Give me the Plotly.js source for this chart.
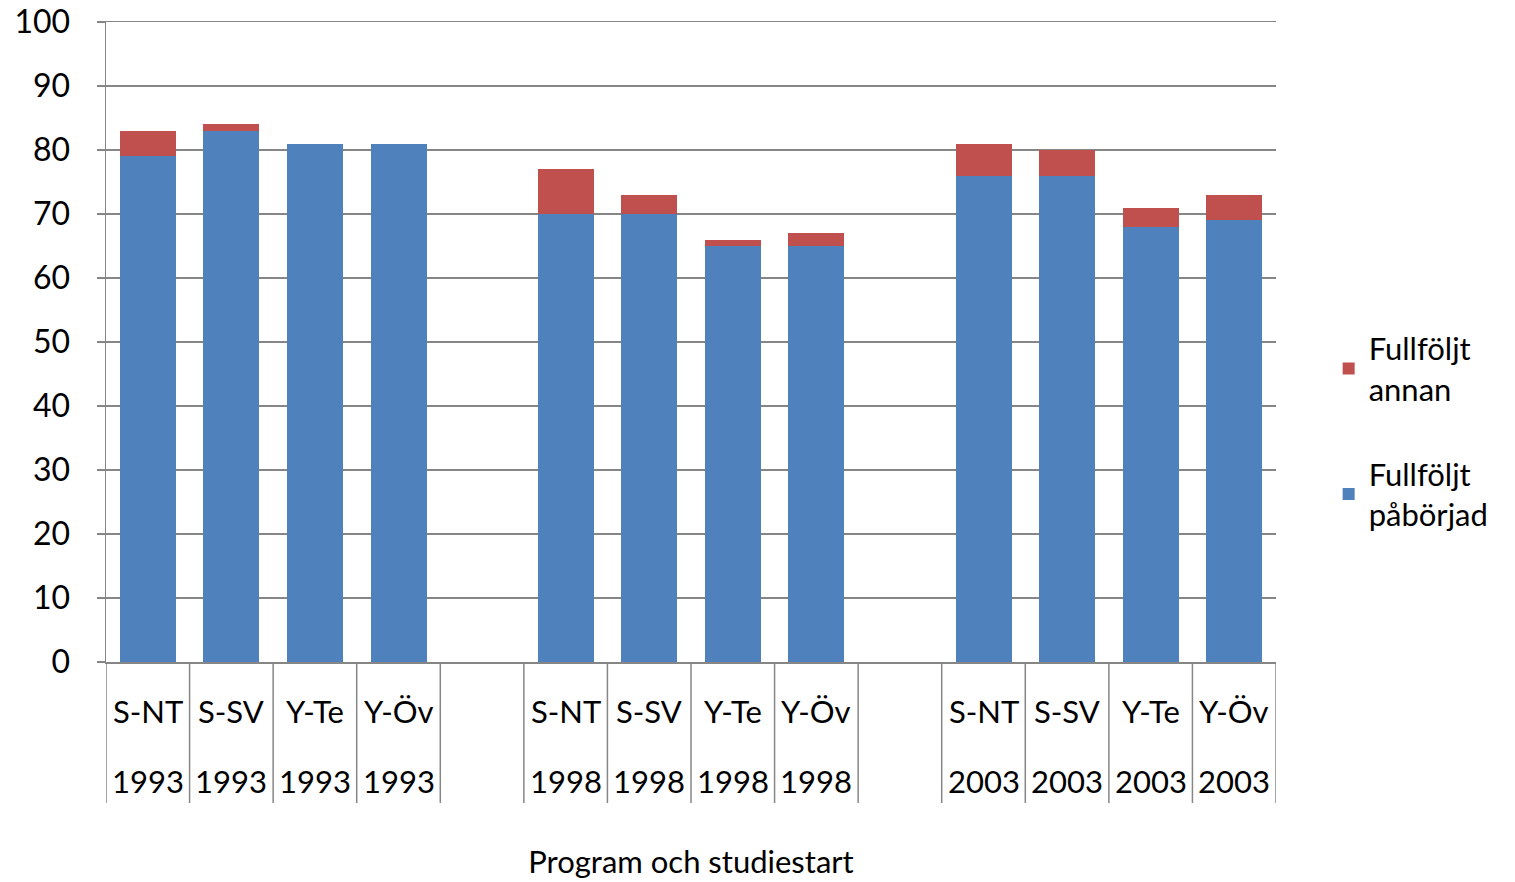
<!DOCTYPE html>
<html>
<head>
<meta charset="utf-8">
<script src="https://cdn.plot.ly/plotly-3.0.1.min.js"></script>
<style>html,body{margin:0;padding:0;background:#fff;}#chart{width:1515px;height:882px;}</style>
</head>
<body>
<div id="chart"></div>
<script>
// Data
const categories = ["S-NT 1993","S-SV 1993","Y-Te 1993","Y-Öv 1993"," ",
                    "S-NT 1998","S-SV 1998","Y-Te 1998","Y-Öv 1998","  ",
                    "S-NT 2003","S-SV 2003","Y-Te 2003","Y-Öv 2003"];
const programLabels = ["S-NT","S-SV","Y-Te","Y-Öv","","S-NT","S-SV","Y-Te","Y-Öv","","S-NT","S-SV","Y-Te","Y-Öv"];
const yearLabels = ["1993","1993","1993","1993","","1998","1998","1998","1998","","2003","2003","2003","2003"];
const fullfoljtPaborjad = [79, 83, 81, 81, null, 70, 70, 65, 65, null, 76, 76, 68, 69];
const fullfoljtAnnan    = [4, 1, 0, 0, null, 7, 3, 1, 2, null, 5, 4, 3, 4];
const seriesNames = ["Fullföljt<br>påbörjad", "Fullföljt<br>annan"];
const yTicks = [0,10,20,30,40,50,60,70,80,90,100];

const FONT = "Lato, 'Open Sans', sans-serif";
const GRAY = "#868686";

const traces = [
  {type:"bar", name:seriesNames[0], x:categories, y:fullfoljtPaborjad,
   marker:{color:"#4F81BD", line:{width:0}}, width:0.67, legendgroup:"a", legendrank:2, hoverinfo:"y"},
  {type:"bar", name:seriesNames[1], x:categories, y:fullfoljtAnnan,
   marker:{color:"#C0504D", line:{width:0}}, width:0.67, legendgroup:"b", legendrank:1, hoverinfo:"y"}
];

const shapes = [];
for (let i = 0; i <= categories.length; i++) {
  shapes.push({type:"line", xref:"x", yref:"paper", x0:i-0.5, x1:i-0.5, y0:0, y1:-0.2203,
               line:{color:GRAY, width:1.5}, layer:"above"});
}
const annotations = [];
categories.forEach((c, i) => {
  annotations.push({xref:"x", yref:"paper", x:c, y:-0.0766, text:programLabels[i], showarrow:false,
                    xanchor:"center", yanchor:"middle", font:{family:FONT, size:31, color:"#000"}});
  annotations.push({xref:"x", yref:"paper", x:c, y:-0.1859, text:yearLabels[i], showarrow:false,
                    xanchor:"center", yanchor:"middle", font:{family:FONT, size:31, color:"#000"}});
});

const layout = {
  width:1515, height:882,
  margin:{l:106, r:239, t:22, b:220},
  paper_bgcolor:"#fff", plot_bgcolor:"#fff",
  barmode:"stack",
  font:{family:FONT, size:31, color:"#000"},
  showlegend:true,
  legend:{x:1.045, xanchor:"left", y:0.36, yanchor:"middle", traceorder:"grouped",
          tracegroupgap:42, font:{family:FONT, size:31, color:"#000"}, bgcolor:"rgba(0,0,0,0)"},
  xaxis:{type:"category", categoryorder:"array", categoryarray:categories,
         showticklabels:false, ticks:"", showgrid:false, showline:true, mirror:true, linecolor:GRAY, linewidth:1.5,
         range:[-0.5, categories.length-0.5], fixedrange:true,
         title:{text:"Program och studiestart", font:{family:FONT, size:31, color:"#000"}, standoff:189}},
  yaxis:{range:[0,100], tickvals:yTicks, ticks:"outside", ticklen:8, tickcolor:GRAY, tickwidth:1.5,
         showgrid:true, gridcolor:GRAY, gridwidth:1.5, showline:true, linecolor:GRAY, linewidth:1.5,
         zeroline:false, ticklabelstandoff:20, tickfont:{family:FONT, size:32, color:"#000"}, fixedrange:true},
  shapes:shapes,
  annotations:annotations
};

Plotly.newPlot("chart", traces, layout, {displayModeBar:false, staticPlot:true});
</script>
</body>
</html>
